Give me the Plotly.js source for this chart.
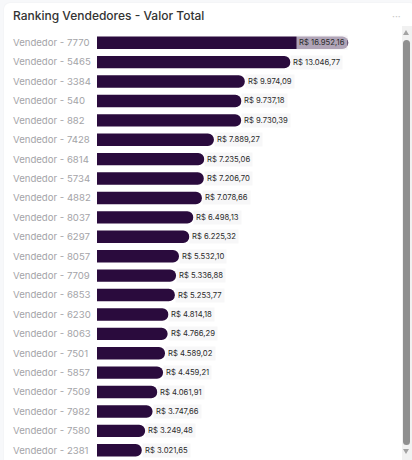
<!DOCTYPE html>
<html>
<head>
<meta charset="utf-8">
<script src="https://cdn.plot.ly/plotly-3.0.1.min.js"></script>
<style>
  html, body { margin: 0; padding: 0; background: #f7f8fa; width: 412px; height: 460px; overflow: hidden; }
  #card { position: absolute; left: 4px; top: 3px; width: 412px; height: 470px; background: #fff; border-radius: 6px; box-shadow: 0 0 2px rgba(0,0,0,0.06); }
  #chart { position: absolute; left: 0; top: 0; width: 412px; height: 460px; }
  #dots { position: absolute; left: 392px; top: 8px; color: #c8c8c8; font: 11px 'Open Sans', sans-serif; letter-spacing: 0px; }
  #track { position: absolute; left: 402px; top: 26px; width: 10px; height: 434px; background: #f1f1f1; }
  #thumb { position: absolute; left: 403px; top: 40px; width: 7px; height: 405px; background: #8f8f8f; border-radius: 4px; }
  .arr { position: absolute; left: 403px; width: 0; height: 0; border-left: 3.5px solid transparent; border-right: 3.5px solid transparent; }
  #up { top: 30px; border-bottom: 5px solid #a3a3a3; }
  #down { top: 449px; border-top: 5px solid #a3a3a3; }
</style>
</head>
<body>
<div id="card"></div>
<div id="chart"></div>
<div id="dots">···</div>
<div id="track"></div>
<div id="up" class="arr"></div>
<div id="thumb"></div>
<div id="down" class="arr"></div>
<script>
const chartTitle = 'Ranking Vendedores - Valor Total';
const vendedores = ['Vendedor - 7770','Vendedor - 5465','Vendedor - 3384','Vendedor - 540','Vendedor - 882','Vendedor - 7428','Vendedor - 6814','Vendedor - 5734','Vendedor - 4882','Vendedor - 8037','Vendedor - 6297','Vendedor - 8057','Vendedor - 7709','Vendedor - 6853','Vendedor - 6230','Vendedor - 8063','Vendedor - 7501','Vendedor - 5857','Vendedor - 7509','Vendedor - 7982','Vendedor - 7580','Vendedor - 2381'];
const valores = [16952.16,13046.77,9974.09,9737.18,9730.39,7889.27,7235.06,7206.70,7078.66,6498.13,6225.32,5532.10,5336.88,5253.77,4814.18,4766.29,4589.02,4459.21,4061.91,3747.66,3249.48,3021.65];
const valorLabels = ['R$ 16.952,16','R$ 13.046,77','R$ 9.974,09','R$ 9.737,18','R$ 9.730,39','R$ 7.889,27','R$ 7.235,06','R$ 7.206,70','R$ 7.078,66','R$ 6.498,13','R$ 6.225,32','R$ 5.532,10','R$ 5.336,88','R$ 5.253,77','R$ 4.814,18','R$ 4.766,29','R$ 4.589,02','R$ 4.459,21','R$ 4.061,91','R$ 3.747,66','R$ 3.249,48','R$ 3.021,65'];

const L = 10, R = 400, zeroPx = 97, pxPerUnit = 0.01482;
const xMin = -(zeroPx - L) / pxPerUnit;
const xMax = (R - zeroPx) / pxPerUnit;
const maxV = Math.max(...valores);

const annotations = valores.map((v, i) => {
  const inside = v > 0.9 * maxV;
  return {
    x: v, y: vendedores[i], xref: 'x', yref: 'y',
    text: valorLabels[i], showarrow: false,
    xanchor: inside ? 'right' : 'left', yanchor: 'middle',
    xshift: 0,
    font: {family: 'Inter, sans-serif', size: 7.7, color: '#2a2a2a'},
    bgcolor: inside ? 'rgba(240,238,242,0.68)' : 'rgba(242,242,244,0.6)',
    borderpad: 2
  };
});

const trace = {
  type: 'bar', orientation: 'h',
  x: valores, y: vendedores,
  marker: {color: '#2a0b3d', cornerradius: 6},
  hoverinfo: 'none'
};

const layout = {
  width: 412, height: 460,
  margin: {l: L, r: 412 - R, t: 33, b: 0, pad: 0},
  paper_bgcolor: 'rgba(0,0,0,0)', plot_bgcolor: 'rgba(0,0,0,0)',
  title: {text: chartTitle, x: 0, xref: 'container', xanchor: 'left', pad: {l: 13},
          y: 1 - 16/460, yref: 'container', yanchor: 'middle',
          font: {family: 'Inter, sans-serif', size: 12, color: '#333', weight: 500}},
  bargap: 0.36,
  showlegend: false,
  xaxis: {range: [xMin, xMax], visible: false, fixedrange: true},
  yaxis: {autorange: 'reversed', type: 'category', showline: false, showgrid: false, zeroline: false,
          ticks: '', ticklabelposition: 'inside', ticklabelstandoff: 0,
          tickfont: {family: 'Inter, sans-serif', size: 9.6, color: '#a4a4a8'}},
  annotations: annotations
};

Plotly.newPlot('chart', [trace], layout, {displayModeBar: false, staticPlot: true});
</script>
</body>
</html>
